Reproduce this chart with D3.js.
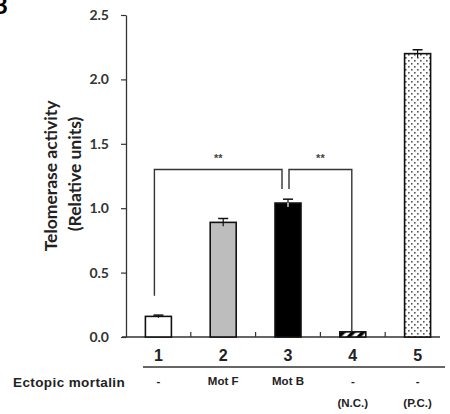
<!DOCTYPE html>
<html>
<head>
<meta charset="utf-8">
<script src="https://cdn.jsdelivr.net/npm/d3@7"></script>
<style>
  body { margin: 0; background: #fff; }
  svg { display: block; }
</style>
</head>
<body>
<svg id="chart"></svg>
<script>
// chart values
var lanes = ["1", "2", "3", "4", "5"];
var activity = [0.16, 0.89, 1.04, 0.04, 2.20];
var errors = [0.01, 0.03, 0.03, 0.0, 0.03];
var mortalinLabels = ["-", "Mot F", "Mot B", "-", "-"];
var controlLabels = ["", "", "", "(N.C.)", "(P.C.)"];
var yTicks = [0.0, 0.5, 1.0, 1.5, 2.0, 2.5];
// significance brackets: from lane, to lane, bracket height, leg ends
var sigFrom = ["1", "3"];
var sigTo = ["3", "4"];
var sigTop = [1.3, 1.3];
var sigLegs = [[0.32, 1.15], [1.15, 0.04]];
var sigText = ["**", "**"];

var width = 450, height = 414;
var svg = d3.select("#chart").attr("width", width).attr("height", height);

var x = d3.scaleBand().domain(lanes).range([126, 450]).padding(0);
var y = d3.scaleLinear().domain([0, 2.5]).range([337, 15]);
var barW = 26;
function cx(d) { return x(d) + x.bandwidth() / 2; }

var defs = svg.append("defs");
var stripes = defs.append("pattern")
    .attr("id", "stripes")
    .attr("patternUnits", "userSpaceOnUse")
    .attr("width", 7).attr("height", 7)
    .attr("patternTransform", "rotate(45)");
stripes.append("rect").attr("width", 7).attr("height", 7).attr("fill", "#fff");
stripes.append("rect").attr("width", 3.5).attr("height", 7).attr("fill", "#000");

var dots = defs.append("pattern")
    .attr("id", "dots")
    .attr("patternUnits", "userSpaceOnUse")
    .attr("width", 6).attr("height", 6);
dots.append("rect").attr("width", 6).attr("height", 6).attr("fill", "#fff");
dots.append("rect").attr("x", 0).attr("y", 0).attr("width", 1.6).attr("height", 1.6).attr("fill", "#555");
dots.append("rect").attr("x", 3).attr("y", 3).attr("width", 1.6).attr("height", 1.6).attr("fill", "#555");

var fills = ["#fff", "#bdbdbd", "#000", "url(#stripes)", "url(#dots)"];

// panel letter (cut off at the corner, as in the figure)
svg.append("text")
    .attr("x", -8).attr("y", 14)
    .style("font-family", "Lato, 'Liberation Sans', sans-serif")
    .style("font-weight", "bold")
    .style("font-size", "24px")
    .text("B");

// y axis
var yAxis = d3.axisLeft(y).tickValues(yTicks).tickFormat(d3.format(".1f")).tickSize(5).tickSizeOuter(0);
var gy = svg.append("g").attr("transform", "translate(126,0)").call(yAxis);
gy.select(".domain").attr("stroke", "#333").attr("stroke-width", 1.3);
gy.selectAll(".tick line").attr("stroke", "#333").attr("stroke-width", 1.2);
gy.selectAll(".tick text")
    .attr("x", -17)
    .attr("fill", "#333")
    .style("font-family", "Lato, sans-serif")
    .style("font-weight", "bold")
    .style("font-size", "14px");

svg.append("text")
    .attr("transform", "translate(57,176) rotate(-90)")
    .attr("text-anchor", "middle")
    .style("font-family", "Lato, sans-serif")
    .style("font-weight", "bold")
    .style("font-size", "17.5px")
    .attr("fill", "#222")
    .text("Telomerase activity");
svg.append("text")
    .attr("transform", "translate(81,174) rotate(-90)")
    .attr("text-anchor", "middle")
    .style("font-family", "Lato, sans-serif")
    .style("font-weight", "bold")
    .style("font-size", "17.5px")
    .attr("fill", "#222")
    .text("(Relative units)");

// baseline with upward ticks between lanes
svg.append("line")
    .attr("x1", 122).attr("x2", 440)
    .attr("y1", y(0)).attr("y2", y(0))
    .attr("stroke", "#333").attr("stroke-width", 1.5);
svg.selectAll(".sep")
    .data(lanes.slice(1))
    .enter().append("line")
    .attr("class", "sep")
    .attr("x1", function (d) { return x(d); })
    .attr("x2", function (d) { return x(d); })
    .attr("y1", y(0)).attr("y2", y(0) - 5)
    .attr("stroke", "#333").attr("stroke-width", 1.2);

// bars
var data = lanes.map(function (d, i) {
    return { lane: d, value: activity[i], err: errors[i], fill: fills[i] };
});
svg.selectAll(".bar")
    .data(data)
    .enter().append("rect")
    .attr("class", "bar")
    .attr("x", function (d) { return cx(d.lane) - barW / 2; })
    .attr("y", function (d) { return y(d.value); })
    .attr("width", barW)
    .attr("height", function (d) { return y(0) - y(d.value); })
    .attr("fill", function (d) { return d.fill; })
    .attr("stroke", "#111")
    .attr("stroke-width", 1.6);

// error bars
var eb = svg.selectAll(".err").data(data.filter(function (d) { return d.err > 0; }))
    .enter().append("g").attr("class", "err");
eb.append("line")
    .attr("x1", function (d) { return cx(d.lane); })
    .attr("x2", function (d) { return cx(d.lane); })
    .attr("y1", function (d) { return y(d.value - d.err); })
    .attr("y2", function (d) { return y(d.value + d.err); })
    .attr("stroke", function (d) { return d.lane === "3" ? "#fff" : "#111"; })
    .attr("stroke-width", 1.2);
eb.append("line")
    .attr("x1", function (d) { return cx(d.lane) - 5; })
    .attr("x2", function (d) { return cx(d.lane) + 5; })
    .attr("y1", function (d) { return y(d.value + d.err); })
    .attr("y2", function (d) { return y(d.value + d.err); })
    .attr("stroke", "#111").attr("stroke-width", 1.5);
eb.filter(function (d) { return d.lane === "3"; }).append("line")
    .attr("x1", function (d) { return cx(d.lane); })
    .attr("x2", function (d) { return cx(d.lane); })
    .attr("y1", function (d) { return y(d.value); })
    .attr("y2", function (d) { return y(d.value + d.err); })
    .attr("stroke", "#111").attr("stroke-width", 1.2);

// significance brackets
var offs = [[-4, -6], [1, -1]];
sigFrom.forEach(function (f, i) {
    var x1 = cx(f) + offs[i][0], x2 = cx(sigTo[i]) + offs[i][1];
    svg.append("path")
        .attr("d", "M" + x1 + "," + y(sigLegs[i][0]) + "V" + y(sigTop[i]) + "H" + x2 + "V" + y(sigLegs[i][1]))
        .attr("fill", "none")
        .attr("stroke", "#333").attr("stroke-width", 1.4);
    svg.append("text")
        .attr("x", (x1 + x2) / 2)
        .attr("y", y(sigTop[i]) - 8)
        .attr("text-anchor", "middle")
        .attr("fill", "#444")
        .style("font-family", "'Liberation Sans', Arial, sans-serif")
        .style("font-weight", "bold")
        .style("font-size", "11px")
        .text(sigText[i]);
});

// lane numbers and labels
svg.selectAll(".num")
    .data(lanes)
    .enter().append("text")
    .attr("x", function (d) { return cx(d); })
    .attr("y", 361)
    .attr("text-anchor", "middle")
    .attr("fill", "#222")
    .style("font-family", "'Liberation Sans', Arial, sans-serif")
    .style("font-weight", "bold")
    .style("font-size", "16px")
    .text(function (d) { return d; });

svg.append("line")
    .attr("x1", 143).attr("x2", 445)
    .attr("y1", 367).attr("y2", 367)
    .attr("stroke", "#333").attr("stroke-width", 1.3);

svg.append("text")
    .attr("x", 13).attr("y", 387)
    .attr("fill", "#222")
    .style("font-family", "'Liberation Sans', Arial, sans-serif")
    .style("font-weight", "bold")
    .style("font-size", "13.5px")
    .style("letter-spacing", "0.4px")
    .text("Ectopic mortalin");

svg.selectAll(".mot")
    .data(lanes)
    .enter().append("text")
    .attr("x", function (d) { return cx(d); })
    .attr("y", 385)
    .attr("text-anchor", "middle")
    .attr("fill", "#222")
    .style("font-family", "'Liberation Sans', Arial, sans-serif")
    .style("font-weight", "bold")
    .style("font-size", "11.5px")
    .text(function (d, i) { return mortalinLabels[i]; });

svg.selectAll(".ctl")
    .data(lanes)
    .enter().append("text")
    .attr("x", function (d) { return cx(d); })
    .attr("y", 407)
    .attr("text-anchor", "middle")
    .attr("fill", "#222")
    .style("font-family", "'Liberation Sans', Arial, sans-serif")
    .style("font-weight", "bold")
    .style("font-size", "11.5px")
    .text(function (d, i) { return controlLabels[i]; });
</script>
</body>
</html>
